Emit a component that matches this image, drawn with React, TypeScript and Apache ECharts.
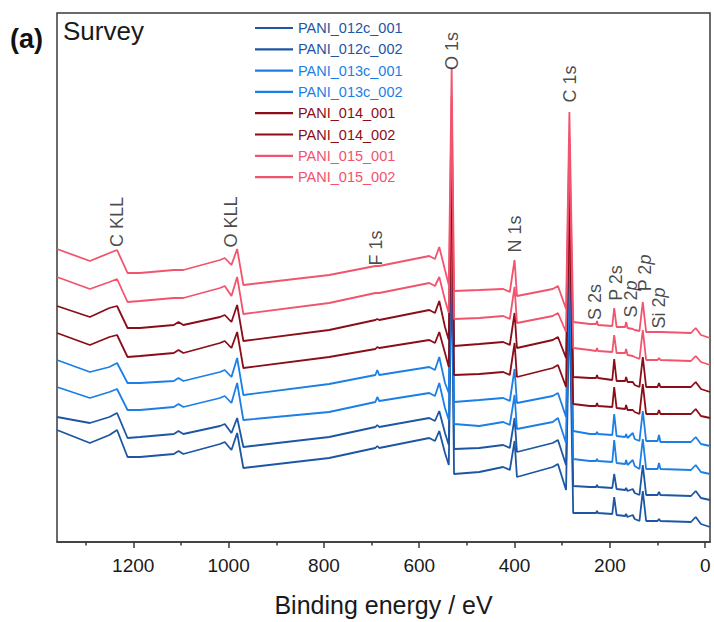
import React, { useEffect, useRef } from "react";
import * as echarts from "echarts";

// Binding energy anchors (eV)
const energies = [1360, 1291, 1250, 1234, 1212, 1186, 1115, 1105, 1095, 1018, 1008, 994, 982, 969, 789, 692, 688, 684, 579, 567, 558, 546, 538, 532, 527, 474, 424, 410, 400, 395, 320, 309, 292, 285, 277, 242, 229, 227, 225, 195, 191, 186, 168, 166, 163, 152, 148, 138, 131, 124, 100, 97, 94, 30, 20, 9, -10];

// Offset intensities (a.u.)
const PANI_012c_001 = [112, 99, 107, 112, 85, 85, 88, 91, 88, 98, 100, 92, 109, 74, 84, 94, 96, 94, 104, 101, 111, 89, 77, 287, 68, 70, 75, 72, 101, 65, 75, 78, 52, 242, 29, 29, 29, 31, 29, 28, 45, 27, 26, 28, 25, 27, 23, 21, 51, 21, 21, 23, 21, 20, 25, 18, 15];
const PANI_012c_002 = [125, 119, 125, 129, 104, 105, 108, 111, 108, 116, 118, 109, 124, 95, 105, 115, 117, 115, 124, 121, 131, 109, 97, 312, 93, 94, 97, 94, 124, 90, 99, 102, 77, 269, 56, 55, 55, 57, 55, 54, 68, 53, 52, 54, 51, 53, 49, 47, 77, 47, 47, 50, 47, 46, 51, 44, 42];
const PANI_013c_001 = [155, 144, 150, 153, 132, 132, 135, 138, 135, 144, 146, 139, 159, 122, 130, 140, 145, 141, 149, 146, 159, 134, 122, 337, 118, 116, 120, 117, 147, 113, 120, 124, 99, 295, 83, 81, 81, 83, 81, 80, 102, 79, 78, 82, 77, 82, 76, 73, 103, 73, 73, 79, 73, 72, 77, 70, 68];
const PANI_013c_002 = [182, 170, 175, 179, 159, 159, 161, 164, 161, 170, 172, 165, 184, 147, 158, 167, 172, 167, 175, 172, 185, 159, 149, 364, 140, 142, 144, 141, 173, 139, 146, 149, 125, 322, 111, 108, 108, 110, 108, 107, 128, 106, 105, 108, 104, 109, 103, 101, 131, 101, 101, 107, 100, 100, 105, 98, 96];
const PANI_014_001 = [209, 197, 205, 207, 185, 186, 189, 192, 189, 199, 201, 194, 210, 174, 185, 193, 195, 194, 202, 199, 210, 189, 175, 391, 167, 168, 170, 167, 199, 165, 174, 177, 155, 350, 138, 136, 136, 139, 136, 135, 155, 134, 133, 137, 132, 132, 130, 128, 158, 128, 128, 132, 128, 128, 133, 126, 124];
const PANI_014_002 = [236, 225, 234, 236, 214, 214, 217, 220, 217, 225, 227, 220, 237, 201, 212, 222, 223, 222, 232, 229, 241, 215, 202, 419, 196, 198, 200, 197, 229, 194, 202, 205, 184, 377, 165, 164, 164, 167, 164, 162, 183, 161, 161, 165, 160, 160, 157, 155, 185, 155, 155, 159, 155, 155, 160, 153, 150];
const PANI_015_001 = [265, 253, 260, 263, 240, 241, 244, 244, 244, 254, 256, 246, 265, 228, 239, 249, 249, 249, 259, 256, 265, 242, 229, 446, 223, 224, 226, 223, 255, 219, 226, 229, 210, 404, 194, 192, 191, 194, 191, 190, 207, 189, 189, 193, 187, 186, 185, 183, 212, 182, 182, 184, 182, 181, 186, 180, 177];
const PANI_015_002 = [293, 281, 289, 292, 269, 269, 272, 272, 272, 282, 284, 277, 293, 257, 267, 276, 276, 276, 286, 283, 295, 272, 257, 474, 251, 252, 253, 250, 282, 246, 253, 256, 233, 430, 220, 218, 218, 221, 217, 216, 234, 215, 215, 220, 214, 213, 212, 211, 240, 210, 210, 210, 210, 209, 214, 207, 204];

const seriesNames = ["PANI_012c_001", "PANI_012c_002", "PANI_013c_001", "PANI_013c_002", "PANI_014_001", "PANI_014_002", "PANI_015_001", "PANI_015_002"];
const seriesValues = [PANI_012c_001, PANI_012c_002, PANI_013c_001, PANI_013c_002, PANI_014_001, PANI_014_002, PANI_015_001, PANI_015_002];
const seriesColors = ["#1d56a3", "#1d56a3", "#1b7fe6", "#1b7fe6", "#8b0d18", "#8b0d18", "#f2536d", "#f2536d"];

// Peak annotations
const peakLabels = ["C KLL", "O KLL", "F 1s", "O 1s", "N 1s", "C 1s", "S 2s", "P 2s", "S 2p", "P 2p", "Si 2p"];
const peakLabelEnergies = [1234, 995, 691, 531, 399, 284, 232, 187, 156, 126, 97];
const peakLabelHeights = [320, 320, 294, 491, 308, 458, 240, 259, 243, 269, 234];

const majorTicks = [0, 200, 400, 600, 800, 1000, 1200];
const minorTicks = [100, 300, 500, 700, 900, 1100, 1300];

const FONT = "'Liberation Sans', Arial, sans-serif";

export default function App() {
  const ref = useRef<HTMLDivElement>(null);
  useEffect(() => {
    if (!ref.current) return;
    const chart = echarts.init(ref.current, null, { renderer: "svg" });
    const lineSeries = seriesNames.map((name, k) => ({
      name,
      type: "line",
      xAxisIndex: 0,
      symbol: "none",
      showSymbol: false,
      lineStyle: { width: 1.8, color: seriesColors[k] },
      itemStyle: { color: seriesColors[k] },
      data: energies.map((e, i) => [e, seriesValues[k][i]]),
      z: 2 + k,
    }));
    const annotationSeries = {
      name: "peaks",
      type: "scatter",
      xAxisIndex: 0,
      symbolSize: 1,
      itemStyle: { color: "rgba(0,0,0,0)" },
      z: 20,
      data: peakLabels.map((t, i) => [peakLabelEnergies[i], peakLabelHeights[i], t]),
      label: {
        show: true,
        position: "inside",
        rotate: 90,
        formatter: (p: any) => {
          const t: string = p.data[2];
          if (t.endsWith("p")) return `{n|${t.slice(0, -1)}}{i|p}`;
          return `{n|${t}}`;
        },
        rich: {
          n: { fontSize: 18, fontFamily: FONT, color: "#1a1a1a" },
          i: { fontSize: 18, fontFamily: FONT, color: "#1a1a1a", fontStyle: "italic" },
        },
      },
    };
    chart.setOption({
      animation: false,
      grid: {
        left: 57,
        right: 4,
        top: 13,
        bottom: 80,
        show: true,
        borderColor: "#3a3a3a",
        borderWidth: 1.5,
        backgroundColor: "transparent",
      },
      legend: {
        orient: "vertical",
        left: 250,
        top: 15,
        icon: "rect",
        itemWidth: 38,
        itemHeight: 2.2,
        itemGap: 5.3,
        data: seriesNames.map((n, k) => ({ name: n, textStyle: { color: seriesColors[k] } })),
        textStyle: { fontSize: 14.5, fontFamily: FONT, lineHeight: 16 },
      },
      xAxis: [
        {
          type: "value",
          min: -10,
          max: 1360,
          inverse: true,
          name: "Binding energy / eV",
          nameLocation: "middle",
          nameGap: 50,
          nameTextStyle: { fontSize: 25, fontFamily: FONT, color: "#1a1a1a" },
          axisLine: { show: true, lineStyle: { color: "#3a3a3a", width: 1.5 } },
          axisTick: { show: true, customValues: majorTicks, length: 6, lineStyle: { color: "#3a3a3a", width: 1.5 } },
          axisLabel: {
            customValues: majorTicks,
            fontSize: 19,
            fontFamily: FONT,
            color: "#1a1a1a",
            margin: 14,
            formatter: (v: number) => String(v),
          },
          splitLine: { show: false },
        },
        {
          type: "value",
          min: -10,
          max: 1360,
          inverse: true,
          position: "bottom",
          axisLine: { show: false },
          axisTick: { show: true, customValues: minorTicks, length: 3.5, lineStyle: { color: "#3a3a3a", width: 1.5 } },
          axisLabel: { show: false },
          splitLine: { show: false },
        },
      ],
      yAxis: { type: "value", min: 0, max: 529, show: false },
      graphic: [
        { type: "text", left: 10, top: 25, style: { text: "(a)", fontSize: 27, fontWeight: "bold", fontFamily: FONT, fill: "#111" } },
        { type: "text", left: 63, top: 18, style: { text: "Survey", fontSize: 26, fontFamily: FONT, fill: "#1a1a1a" } },
      ],
      series: [...lineSeries, annotationSeries],
    });
    return () => chart.dispose();
  }, []);
  return <div ref={ref} style={{ position: "absolute", left: 0, top: 0, width: 714, height: 622 }} />;
}
